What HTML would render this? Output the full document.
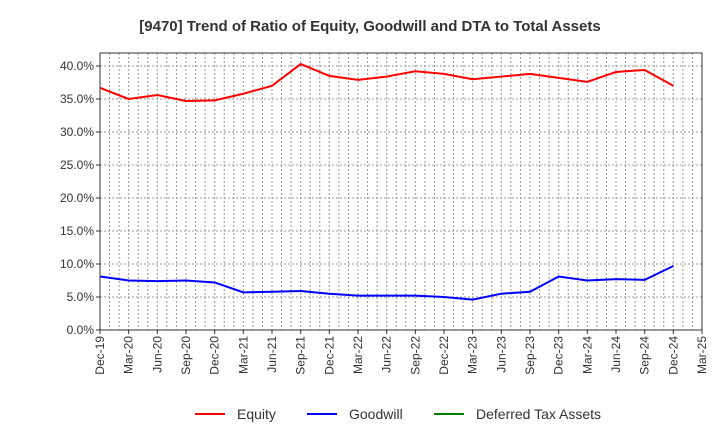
<!DOCTYPE html>
<html><head><meta charset="utf-8"><style>
body{margin:0;background:#fff;font-family:"Liberation Sans",sans-serif;}
svg text{font-family:"Liberation Sans",sans-serif;}
</style></head><body>
<svg id="chart" width="720" height="440" xmlns="http://www.w3.org/2000/svg">
<text x="370" y="31" text-anchor="middle" font-size="15" font-weight="bold" fill="#333">[9470]  Trend of Ratio of Equity, Goodwill and DTA to Total Assets</text>
<g id="grid"></g>
<g id="yaxis"></g>
<g id="xaxis"></g>
<g id="series"></g>
<rect x="100" y="53" width="602" height="277" fill="none" stroke="#333" stroke-width="1"/>
<g>
<g><line x1="195" y1="414" x2="225" y2="414" stroke="#f00" stroke-width="2"/><text x="237" y="419" font-size="14" fill="#333">Equity</text></g>
<g><line x1="307" y1="414" x2="337" y2="414" stroke="#00f" stroke-width="2"/><text x="349" y="419" font-size="14" fill="#333">Goodwill</text></g>
<g><line x1="434" y1="414" x2="464" y2="414" stroke="#008000" stroke-width="2"/><text x="476" y="419" font-size="14" fill="#333">Deferred Tax Assets</text></g>
</g>
</svg>
<script>
const categories=["Dec-19","Mar-20","Jun-20","Sep-20","Dec-20","Mar-21","Jun-21","Sep-21","Dec-21","Mar-22","Jun-22","Sep-22","Dec-22","Mar-23","Jun-23","Sep-23","Dec-23","Mar-24","Jun-24","Sep-24","Dec-24","Mar-25"];
const equity=[36.7,35.0,35.6,34.7,34.8,35.8,37.0,40.3,38.5,37.9,38.4,39.2,38.8,38.0,38.4,38.8,38.2,37.6,39.1,39.4,37.0];
const goodwill=[8.1,7.5,7.4,7.5,7.2,5.7,5.8,5.9,5.5,5.2,5.2,5.2,5.0,4.6,5.5,5.8,8.1,7.5,7.7,7.6,9.7];
const dta=[];
const yTicks=[0,5,10,15,20,25,30,35,40];
const NS="http://www.w3.org/2000/svg";
const L=100,R=702,T=53,B=330;
function x(i){return L+i*(R-L)/(categories.length-1);}
function y(v){return B-v*(B-66)/40;}
function mk(t,a,p){const e=document.createElementNS(NS,t);for(const k in a)e.setAttribute(k,a[k]);p.appendChild(e);return e;}
const grid=document.getElementById('grid'),ya=document.getElementById('yaxis'),xa=document.getElementById('xaxis'),se=document.getElementById('series');
for(let m=1;m<(categories.length-1)*3;m++){const xx=L+m*(R-L)/((categories.length-1)*3);
const g=mk('line',{x1:xx,x2:xx,y1:T,y2:B,stroke:'#999','stroke-dasharray':'2,2','stroke-width':1},grid);

}
yTicks.forEach(v=>{
const g=mk('line',{x1:L,x2:R,y1:y(v),y2:y(v),stroke:'#999','stroke-dasharray':'2,2','stroke-width':1},grid);


const tk=mk('line',{x1:L-4,x2:L,y1:y(v),y2:y(v),stroke:'#333'},ya);


const t=mk('text',{x:L-6,y:y(v)+4,'text-anchor':'end','font-size':12,fill:'#333'},ya);t.textContent=v.toFixed(1)+'%';

});
categories.forEach((c,i)=>{
const tk=mk('line',{x1:x(i),x2:x(i),y1:B,y2:B+4,stroke:'#333'},xa);


const t=mk('text',{x:x(i)+4,y:B+6,'text-anchor':'end','font-size':12,fill:'#333',transform:`rotate(-90 ${x(i)+4} ${B+6})`},xa);t.textContent=c;

});
function line(d,col,name){if(!d.length)return;const p=mk('polyline',{points:d.map((v,i)=>x(i)+','+y(v)).join(' '),fill:'none',stroke:col,'stroke-width':2},se);

}
line(equity,'#f00','equity-line');line(goodwill,'#00f','goodwill-line');line(dta,'#008000','dta-line');
</script>
</body></html>
